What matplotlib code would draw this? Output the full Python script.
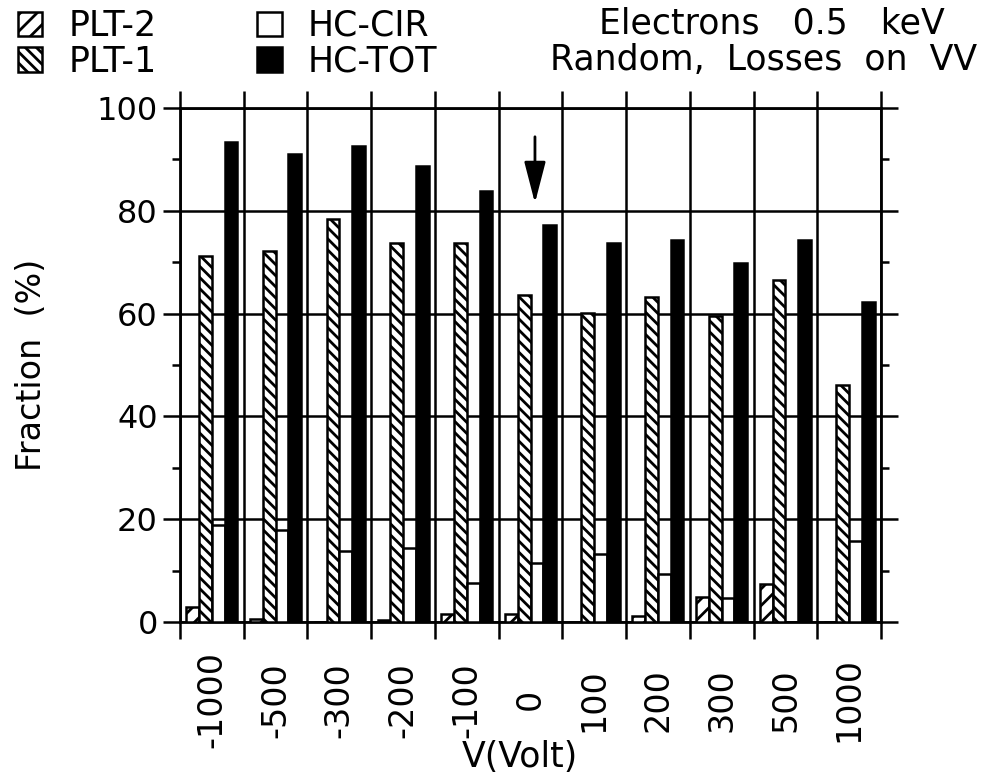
import matplotlib
matplotlib.use('Agg')
import matplotlib.pyplot as plt
import numpy as np

categories = ['-1000', '-500', '-300', '-200', '-100', '0', '100', '200', '300', '500', '1000']
plt2 = [3.0, 0.5, 0.0, 0.4, 1.5, 1.5, 0.0, 1.2, 4.9, 7.3, 0.0]
plt1 = [71.3, 72.2, 78.5, 73.8, 73.8, 63.6, 60.1, 63.2, 59.5, 66.5, 46.1]
hc_cir = [18.9, 17.9, 13.8, 14.3, 7.5, 11.4, 13.2, 9.3, 4.6, 0.0, 15.8]
hc_tot = [93.3, 91.0, 92.7, 88.8, 83.9, 77.2, 73.7, 74.3, 69.8, 74.3, 62.2]
series_names = ['PLT-2', 'PLT-1', 'HC-CIR', 'HC-TOT']

plt.rcParams['font.family'] = ['DejaVu Sans']
plt.rcParams['hatch.linewidth'] = 2.0
plt.rcParams['hatch.color'] = 'black'

FS = 23
LFS = 25
fig = plt.figure(figsize=(9.87, 7.79), dpi=100)
ax = fig.add_axes([180/987, 1-622/779, 701/987, 514/779])

x = np.arange(len(categories))
w = 0.2
b1 = ax.bar(x - 0.3, plt2, w, facecolor='white', edgecolor='black', hatch='//', linewidth=1.8, zorder=3, label=series_names[0])
b2 = ax.bar(x - 0.1, plt1, w, facecolor='white', edgecolor='black', hatch='\\\\\\', linewidth=1.8, zorder=3, label=series_names[1])
b3 = ax.bar(x + 0.1, hc_cir, w, facecolor='white', edgecolor='black', linewidth=1.8, zorder=3, label=series_names[2])
b4 = ax.bar(x + 0.3, hc_tot, w, facecolor='black', edgecolor='black', linewidth=1.8, zorder=3, label=series_names[3])

ax.set_xlim(-0.5, len(categories) - 0.5)
ax.set_ylim(0, 100)

# x: major ticks at category boundaries (grid), minor ticks at centers carry labels
ax.set_xticks(np.arange(len(categories) + 1) - 0.5)
ax.set_xticklabels([])
ax.set_xticks(x, categories, minor=True)
ax.tick_params(axis='x', which='major', direction='out', length=12, width=1.8,
               top=True, bottom=True)
ax.tick_params(axis='x', which='minor', length=0, pad=56, labelsize=24, labelrotation=90)
for lab in ax.get_xticklabels(minor=True):
    lab.set_verticalalignment('center')

ax.set_yticks(np.arange(0, 101, 20))
ax.set_yticks(np.arange(10, 100, 20), minor=True)
ax.tick_params(axis='y', which='major', direction='out', length=12, width=1.8,
               left=True, right=True, labelsize=FS, pad=4)
ax.tick_params(axis='y', which='minor', direction='out', length=6, width=1.8,
               left=True, right=True)

ax.grid(True, which='major', color='black', linewidth=1.8, zorder=0)
ax.set_axisbelow(True)
for s in ax.spines.values():
    s.set_linewidth(2.0)

ax.set_ylabel('Fraction  (%)', fontsize=24)
ax.yaxis.set_label_coords(-0.212, 0.5)
ax.yaxis.label.set_verticalalignment('center')
ax.set_xlabel('V(Volt)', fontsize=25)
ax.xaxis.set_label_coords(0.485, -0.262)
ax.xaxis.label.set_verticalalignment('center')

ax.annotate('', xy=(5.07, 81.5), xytext=(5.07, 94.4),
            arrowprops=dict(arrowstyle='-|>,head_length=0.85,head_width=0.22', color='black', lw=2,
                            mutation_scale=30, shrinkA=0, shrinkB=0), zorder=5)

leg = ax.legend(handles=[b1, b2, b3, b4], loc='upper left',
                bbox_to_anchor=(18/987, 1 - 9/779), bbox_transform=fig.transFigure,
                ncol=2, frameon=False, fontsize=LFS, handlelength=0.7, handleheight=0.7,
                handletextpad=0.75, columnspacing=2.9, labelspacing=0.05, borderpad=0,
                borderaxespad=0)

fig.text(945/987, 1 - 24/779, 'Electrons   0.5   keV', fontsize=LFS, ha='right', va='center')
fig.text(977/987, 1 - 60/779, 'Random,  Losses  on  VV', fontsize=LFS, ha='right', va='center')

fig.savefig('out.png', dpi=100)
